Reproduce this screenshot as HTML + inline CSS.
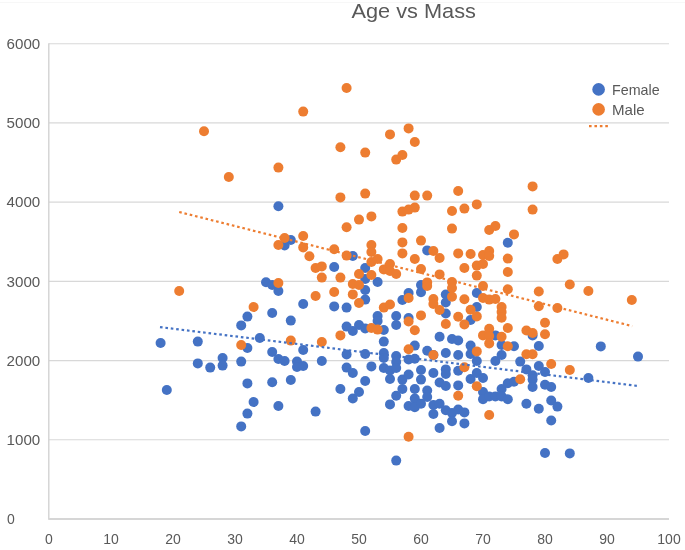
<!DOCTYPE html>
<html><head><meta charset="utf-8"><title>Age vs Mass</title>
<style>
html,body{margin:0;padding:0;background:#fff;}
svg{display:block;font-family:"Liberation Sans",sans-serif;}
</style></head><body>
<svg width="685" height="550" viewBox="0 0 685 550">
<rect width="685" height="550" fill="#ffffff"/>
<line x1="0" x2="685" y1="2.5" y2="2.5" stroke="#f7f7f7" stroke-width="1"/>
<text x="413.7" y="18.2" font-size="21" fill="#595959" text-anchor="middle" textLength="124.5" lengthAdjust="spacingAndGlyphs">Age vs Mass</text>
<g stroke="#d8d8d8" stroke-width="1.15"><line x1="49" x2="669" y1="439.78" y2="439.78"/><line x1="49" x2="669" y1="360.57" y2="360.57"/><line x1="49" x2="669" y1="281.35" y2="281.35"/><line x1="49" x2="669" y1="202.13" y2="202.13"/><line x1="49" x2="669" y1="122.92" y2="122.92"/><line x1="49" x2="669" y1="43.70" y2="43.70"/>
<line x1="48.8" x2="48.8" y1="43.2" y2="519" stroke="#cfcfcf" stroke-width="1.3"/>
<line x1="48.2" x2="669" y1="519" y2="519" stroke="#d6d6d6" stroke-width="2.2"/>
</g>
<g font-size="14" fill="#595959"><text x="7" y="524.2">0</text><text x="6.6" y="445.0" textLength="33.7" lengthAdjust="spacingAndGlyphs">1000</text><text x="6.6" y="365.8" textLength="33.7" lengthAdjust="spacingAndGlyphs">2000</text><text x="6.6" y="286.6" textLength="33.7" lengthAdjust="spacingAndGlyphs">3000</text><text x="6.6" y="207.3" textLength="33.7" lengthAdjust="spacingAndGlyphs">4000</text><text x="6.6" y="128.1" textLength="33.7" lengthAdjust="spacingAndGlyphs">5000</text><text x="6.6" y="48.9" textLength="33.7" lengthAdjust="spacingAndGlyphs">6000</text><text x="49.0" y="544" text-anchor="middle">0</text><text x="111.0" y="544" text-anchor="middle">10</text><text x="173.0" y="544" text-anchor="middle">20</text><text x="235.0" y="544" text-anchor="middle">30</text><text x="297.0" y="544" text-anchor="middle">40</text><text x="359.0" y="544" text-anchor="middle">50</text><text x="421.0" y="544" text-anchor="middle">60</text><text x="483.0" y="544" text-anchor="middle">70</text><text x="545.0" y="544" text-anchor="middle">80</text><text x="607.0" y="544" text-anchor="middle">90</text><text x="669.0" y="544" text-anchor="middle">100</text></g>
<g fill="#4472c4"><circle cx="160.6" cy="343.0" r="5"/><circle cx="166.8" cy="390.0" r="5"/><circle cx="197.8" cy="341.6" r="5"/><circle cx="197.8" cy="363.4" r="5"/><circle cx="210.2" cy="367.6" r="5"/><circle cx="222.6" cy="358.0" r="5"/><circle cx="222.6" cy="365.6" r="5"/><circle cx="241.2" cy="325.4" r="5"/><circle cx="241.2" cy="361.6" r="5"/><circle cx="241.2" cy="426.4" r="5"/><circle cx="247.4" cy="316.6" r="5"/><circle cx="247.4" cy="348.0" r="5"/><circle cx="247.4" cy="383.4" r="5"/><circle cx="247.4" cy="413.6" r="5"/><circle cx="253.6" cy="402.0" r="5"/><circle cx="259.8" cy="338.0" r="5"/><circle cx="266.0" cy="282.2" r="5"/><circle cx="272.2" cy="285.0" r="5"/><circle cx="272.2" cy="313.0" r="5"/><circle cx="272.2" cy="352.0" r="5"/><circle cx="272.2" cy="382.2" r="5"/><circle cx="278.4" cy="206.2" r="5"/><circle cx="278.4" cy="291.0" r="5"/><circle cx="278.4" cy="359.0" r="5"/><circle cx="278.4" cy="406.0" r="5"/><circle cx="284.6" cy="245.5" r="5"/><circle cx="284.6" cy="361.0" r="5"/><circle cx="290.8" cy="240.0" r="5"/><circle cx="290.8" cy="320.6" r="5"/><circle cx="290.8" cy="380.0" r="5"/><circle cx="297.0" cy="361.6" r="5"/><circle cx="297.0" cy="367.0" r="5"/><circle cx="303.2" cy="304.0" r="5"/><circle cx="303.2" cy="350.0" r="5"/><circle cx="303.2" cy="366.0" r="5"/><circle cx="315.6" cy="411.6" r="5"/><circle cx="321.8" cy="361.0" r="5"/><circle cx="334.2" cy="267.0" r="5"/><circle cx="334.2" cy="306.4" r="5"/><circle cx="340.4" cy="389.0" r="5"/><circle cx="346.6" cy="307.6" r="5"/><circle cx="346.6" cy="326.6" r="5"/><circle cx="346.6" cy="354.4" r="5"/><circle cx="346.6" cy="367.6" r="5"/><circle cx="352.8" cy="256.0" r="5"/><circle cx="352.8" cy="331.0" r="5"/><circle cx="352.8" cy="373.0" r="5"/><circle cx="352.8" cy="398.5" r="5"/><circle cx="359.0" cy="325.0" r="5"/><circle cx="359.0" cy="392.0" r="5"/><circle cx="365.2" cy="268.0" r="5"/><circle cx="365.2" cy="279.0" r="5"/><circle cx="365.2" cy="290.0" r="5"/><circle cx="365.2" cy="299.6" r="5"/><circle cx="365.2" cy="328.4" r="5"/><circle cx="365.2" cy="354.0" r="5"/><circle cx="365.2" cy="381.0" r="5"/><circle cx="365.2" cy="431.0" r="5"/><circle cx="371.4" cy="366.4" r="5"/><circle cx="377.6" cy="282.0" r="5"/><circle cx="377.6" cy="316.0" r="5"/><circle cx="377.6" cy="321.0" r="5"/><circle cx="383.8" cy="330.0" r="5"/><circle cx="383.8" cy="341.6" r="5"/><circle cx="383.8" cy="353.0" r="5"/><circle cx="383.8" cy="358.0" r="5"/><circle cx="383.8" cy="368.0" r="5"/><circle cx="390.0" cy="370.5" r="5"/><circle cx="390.0" cy="379.0" r="5"/><circle cx="390.0" cy="404.4" r="5"/><circle cx="396.2" cy="316.0" r="5"/><circle cx="396.2" cy="325.0" r="5"/><circle cx="396.2" cy="356.0" r="5"/><circle cx="396.2" cy="362.0" r="5"/><circle cx="396.2" cy="368.0" r="5"/><circle cx="396.2" cy="395.7" r="5"/><circle cx="396.2" cy="460.6" r="5"/><circle cx="402.4" cy="300.0" r="5"/><circle cx="402.4" cy="379.6" r="5"/><circle cx="402.4" cy="389.0" r="5"/><circle cx="408.6" cy="293.0" r="5"/><circle cx="408.6" cy="318.0" r="5"/><circle cx="408.6" cy="359.5" r="5"/><circle cx="408.6" cy="374.5" r="5"/><circle cx="408.6" cy="406.0" r="5"/><circle cx="414.8" cy="345.6" r="5"/><circle cx="414.8" cy="358.7" r="5"/><circle cx="414.8" cy="389.0" r="5"/><circle cx="414.8" cy="398.6" r="5"/><circle cx="414.8" cy="407.3" r="5"/><circle cx="421.0" cy="285.0" r="5"/><circle cx="421.0" cy="292.3" r="5"/><circle cx="421.0" cy="370.0" r="5"/><circle cx="421.0" cy="379.6" r="5"/><circle cx="421.0" cy="403.7" r="5"/><circle cx="427.2" cy="250.4" r="5"/><circle cx="427.2" cy="350.7" r="5"/><circle cx="427.2" cy="390.5" r="5"/><circle cx="427.2" cy="397.0" r="5"/><circle cx="433.4" cy="355.0" r="5"/><circle cx="433.4" cy="373.0" r="5"/><circle cx="433.4" cy="405.0" r="5"/><circle cx="433.4" cy="414.0" r="5"/><circle cx="439.6" cy="336.8" r="5"/><circle cx="439.6" cy="382.5" r="5"/><circle cx="439.6" cy="403.7" r="5"/><circle cx="439.6" cy="428.0" r="5"/><circle cx="445.8" cy="294.5" r="5"/><circle cx="445.8" cy="302.5" r="5"/><circle cx="445.8" cy="313.5" r="5"/><circle cx="445.8" cy="353.0" r="5"/><circle cx="445.8" cy="369.4" r="5"/><circle cx="445.8" cy="374.0" r="5"/><circle cx="445.8" cy="386.0" r="5"/><circle cx="445.8" cy="410.3" r="5"/><circle cx="452.0" cy="339.0" r="5"/><circle cx="452.0" cy="413.0" r="5"/><circle cx="452.0" cy="421.2" r="5"/><circle cx="458.2" cy="340.5" r="5"/><circle cx="458.2" cy="355.0" r="5"/><circle cx="458.2" cy="370.8" r="5"/><circle cx="458.2" cy="385.4" r="5"/><circle cx="458.2" cy="409.5" r="5"/><circle cx="464.4" cy="412.4" r="5"/><circle cx="464.4" cy="423.4" r="5"/><circle cx="470.6" cy="320.0" r="5"/><circle cx="470.6" cy="345.6" r="5"/><circle cx="470.6" cy="354.0" r="5"/><circle cx="470.6" cy="379.0" r="5"/><circle cx="476.8" cy="293.0" r="5"/><circle cx="476.8" cy="307.0" r="5"/><circle cx="476.8" cy="361.0" r="5"/><circle cx="476.8" cy="373.0" r="5"/><circle cx="483.0" cy="378.0" r="5"/><circle cx="483.0" cy="392.0" r="5"/><circle cx="483.0" cy="399.3" r="5"/><circle cx="489.2" cy="396.4" r="5"/><circle cx="495.4" cy="335.4" r="5"/><circle cx="495.4" cy="361.0" r="5"/><circle cx="495.4" cy="396.4" r="5"/><circle cx="501.6" cy="345.0" r="5"/><circle cx="501.6" cy="355.0" r="5"/><circle cx="501.6" cy="389.0" r="5"/><circle cx="501.6" cy="396.4" r="5"/><circle cx="507.8" cy="242.8" r="5"/><circle cx="507.8" cy="383.2" r="5"/><circle cx="507.8" cy="399.3" r="5"/><circle cx="514.0" cy="346.3" r="5"/><circle cx="514.0" cy="381.8" r="5"/><circle cx="520.2" cy="361.6" r="5"/><circle cx="526.4" cy="369.4" r="5"/><circle cx="526.4" cy="403.7" r="5"/><circle cx="532.6" cy="335.4" r="5"/><circle cx="532.6" cy="375.2" r="5"/><circle cx="532.6" cy="379.6" r="5"/><circle cx="532.6" cy="387.0" r="5"/><circle cx="538.8" cy="346.0" r="5"/><circle cx="538.8" cy="366.0" r="5"/><circle cx="538.8" cy="408.8" r="5"/><circle cx="545.0" cy="372.0" r="5"/><circle cx="545.0" cy="384.7" r="5"/><circle cx="545.0" cy="453.0" r="5"/><circle cx="551.2" cy="387.0" r="5"/><circle cx="551.2" cy="400.5" r="5"/><circle cx="551.2" cy="420.5" r="5"/><circle cx="557.4" cy="406.6" r="5"/><circle cx="569.8" cy="453.4" r="5"/><circle cx="588.4" cy="378.0" r="5"/><circle cx="600.8" cy="346.4" r="5"/><circle cx="638.0" cy="356.6" r="5"/></g>
<g fill="#ed7d31"><circle cx="179.2" cy="291.0" r="5"/><circle cx="204.0" cy="131.2" r="5"/><circle cx="228.8" cy="177.0" r="5"/><circle cx="241.2" cy="345.0" r="5"/><circle cx="253.6" cy="307.0" r="5"/><circle cx="278.4" cy="167.6" r="5"/><circle cx="278.4" cy="245.0" r="5"/><circle cx="278.4" cy="283.0" r="5"/><circle cx="284.6" cy="238.0" r="5"/><circle cx="290.8" cy="340.6" r="5"/><circle cx="303.2" cy="111.6" r="5"/><circle cx="303.2" cy="236.0" r="5"/><circle cx="303.2" cy="247.4" r="5"/><circle cx="309.4" cy="256.3" r="5"/><circle cx="315.6" cy="268.0" r="5"/><circle cx="315.6" cy="296.0" r="5"/><circle cx="321.8" cy="266.4" r="5"/><circle cx="321.8" cy="277.6" r="5"/><circle cx="321.8" cy="342.0" r="5"/><circle cx="334.2" cy="249.2" r="5"/><circle cx="334.2" cy="292.0" r="5"/><circle cx="340.4" cy="147.2" r="5"/><circle cx="340.4" cy="197.4" r="5"/><circle cx="340.4" cy="277.6" r="5"/><circle cx="340.4" cy="335.4" r="5"/><circle cx="346.6" cy="88.0" r="5"/><circle cx="346.6" cy="227.2" r="5"/><circle cx="346.6" cy="255.6" r="5"/><circle cx="352.8" cy="284.0" r="5"/><circle cx="352.8" cy="294.4" r="5"/><circle cx="359.0" cy="219.6" r="5"/><circle cx="359.0" cy="274.0" r="5"/><circle cx="359.0" cy="285.0" r="5"/><circle cx="359.0" cy="303.0" r="5"/><circle cx="365.2" cy="152.6" r="5"/><circle cx="365.2" cy="193.6" r="5"/><circle cx="371.4" cy="216.4" r="5"/><circle cx="371.4" cy="245.0" r="5"/><circle cx="371.4" cy="252.0" r="5"/><circle cx="371.4" cy="262.0" r="5"/><circle cx="371.4" cy="275.0" r="5"/><circle cx="371.4" cy="328.0" r="5"/><circle cx="377.6" cy="259.0" r="5"/><circle cx="377.6" cy="329.6" r="5"/><circle cx="383.8" cy="269.4" r="5"/><circle cx="383.8" cy="307.6" r="5"/><circle cx="390.0" cy="134.4" r="5"/><circle cx="390.0" cy="264.0" r="5"/><circle cx="390.0" cy="271.0" r="5"/><circle cx="390.0" cy="304.5" r="5"/><circle cx="396.2" cy="159.6" r="5"/><circle cx="396.2" cy="274.0" r="5"/><circle cx="402.4" cy="155.0" r="5"/><circle cx="402.4" cy="211.6" r="5"/><circle cx="402.4" cy="228.0" r="5"/><circle cx="402.4" cy="242.4" r="5"/><circle cx="402.4" cy="253.4" r="5"/><circle cx="408.6" cy="128.4" r="5"/><circle cx="408.6" cy="209.6" r="5"/><circle cx="408.6" cy="298.0" r="5"/><circle cx="408.6" cy="321.5" r="5"/><circle cx="408.6" cy="349.2" r="5"/><circle cx="408.6" cy="436.8" r="5"/><circle cx="414.8" cy="142.0" r="5"/><circle cx="414.8" cy="195.6" r="5"/><circle cx="414.8" cy="207.6" r="5"/><circle cx="414.8" cy="259.0" r="5"/><circle cx="414.8" cy="330.3" r="5"/><circle cx="421.0" cy="240.6" r="5"/><circle cx="421.0" cy="269.0" r="5"/><circle cx="421.0" cy="315.4" r="5"/><circle cx="427.2" cy="195.6" r="5"/><circle cx="427.2" cy="282.4" r="5"/><circle cx="427.2" cy="286.0" r="5"/><circle cx="433.4" cy="251.0" r="5"/><circle cx="433.4" cy="299.0" r="5"/><circle cx="433.4" cy="304.0" r="5"/><circle cx="433.4" cy="355.0" r="5"/><circle cx="439.6" cy="258.0" r="5"/><circle cx="439.6" cy="274.4" r="5"/><circle cx="439.6" cy="310.0" r="5"/><circle cx="445.8" cy="324.0" r="5"/><circle cx="452.0" cy="211.0" r="5"/><circle cx="452.0" cy="228.6" r="5"/><circle cx="452.0" cy="282.0" r="5"/><circle cx="452.0" cy="288.0" r="5"/><circle cx="452.0" cy="296.7" r="5"/><circle cx="458.2" cy="191.0" r="5"/><circle cx="458.2" cy="253.4" r="5"/><circle cx="458.2" cy="316.8" r="5"/><circle cx="458.2" cy="395.7" r="5"/><circle cx="464.4" cy="208.6" r="5"/><circle cx="464.4" cy="268.0" r="5"/><circle cx="464.4" cy="299.3" r="5"/><circle cx="464.4" cy="324.4" r="5"/><circle cx="464.4" cy="367.2" r="5"/><circle cx="470.6" cy="254.0" r="5"/><circle cx="470.6" cy="309.8" r="5"/><circle cx="476.8" cy="204.4" r="5"/><circle cx="476.8" cy="265.6" r="5"/><circle cx="476.8" cy="275.6" r="5"/><circle cx="476.8" cy="316.4" r="5"/><circle cx="476.8" cy="351.4" r="5"/><circle cx="476.8" cy="386.2" r="5"/><circle cx="483.0" cy="255.0" r="5"/><circle cx="483.0" cy="264.0" r="5"/><circle cx="483.0" cy="286.0" r="5"/><circle cx="483.0" cy="298.0" r="5"/><circle cx="483.0" cy="335.4" r="5"/><circle cx="489.2" cy="230.0" r="5"/><circle cx="489.2" cy="251.0" r="5"/><circle cx="489.2" cy="256.0" r="5"/><circle cx="489.2" cy="299.6" r="5"/><circle cx="489.2" cy="328.8" r="5"/><circle cx="489.2" cy="336.0" r="5"/><circle cx="489.2" cy="343.4" r="5"/><circle cx="489.2" cy="415.0" r="5"/><circle cx="495.4" cy="226.0" r="5"/><circle cx="495.4" cy="299.0" r="5"/><circle cx="501.6" cy="307.0" r="5"/><circle cx="501.6" cy="312.0" r="5"/><circle cx="501.6" cy="317.8" r="5"/><circle cx="501.6" cy="336.8" r="5"/><circle cx="507.8" cy="258.6" r="5"/><circle cx="507.8" cy="272.0" r="5"/><circle cx="507.8" cy="289.2" r="5"/><circle cx="507.8" cy="328.0" r="5"/><circle cx="507.8" cy="346.3" r="5"/><circle cx="514.0" cy="234.4" r="5"/><circle cx="520.2" cy="379.2" r="5"/><circle cx="526.4" cy="330.5" r="5"/><circle cx="526.4" cy="354.3" r="5"/><circle cx="532.6" cy="186.4" r="5"/><circle cx="532.6" cy="209.6" r="5"/><circle cx="532.6" cy="333.0" r="5"/><circle cx="532.6" cy="354.3" r="5"/><circle cx="538.8" cy="291.5" r="5"/><circle cx="538.8" cy="306.2" r="5"/><circle cx="545.0" cy="322.7" r="5"/><circle cx="545.0" cy="334.3" r="5"/><circle cx="551.2" cy="364.0" r="5"/><circle cx="557.4" cy="259.0" r="5"/><circle cx="557.4" cy="308.0" r="5"/><circle cx="563.6" cy="254.4" r="5"/><circle cx="569.8" cy="284.5" r="5"/><circle cx="569.8" cy="370.0" r="5"/><circle cx="588.4" cy="291.0" r="5"/><circle cx="631.8" cy="300.0" r="5"/></g>
<g fill="none" stroke-width="2.2" stroke-dasharray="2.6 2.83">
<line x1="160" y1="327.1" x2="638.5" y2="386" stroke="#4472c4"/>
<line x1="179.2" y1="212" x2="632.2" y2="326.1" stroke="#ed7d31"/>
<line x1="589" y1="126.2" x2="609" y2="126.2" stroke="#ed7d31"/>
</g>
<circle cx="598.6" cy="89.4" r="6.3" fill="#4472c4"/>
<circle cx="598.6" cy="109.4" r="6.3" fill="#ed7d31"/>
<g font-size="14.5" fill="#595959">
<text x="612" y="94.7" textLength="47.6" lengthAdjust="spacingAndGlyphs">Female</text>
<text x="612" y="115.1" textLength="32.7" lengthAdjust="spacingAndGlyphs">Male</text>
</g>
</svg>
</body></html>
